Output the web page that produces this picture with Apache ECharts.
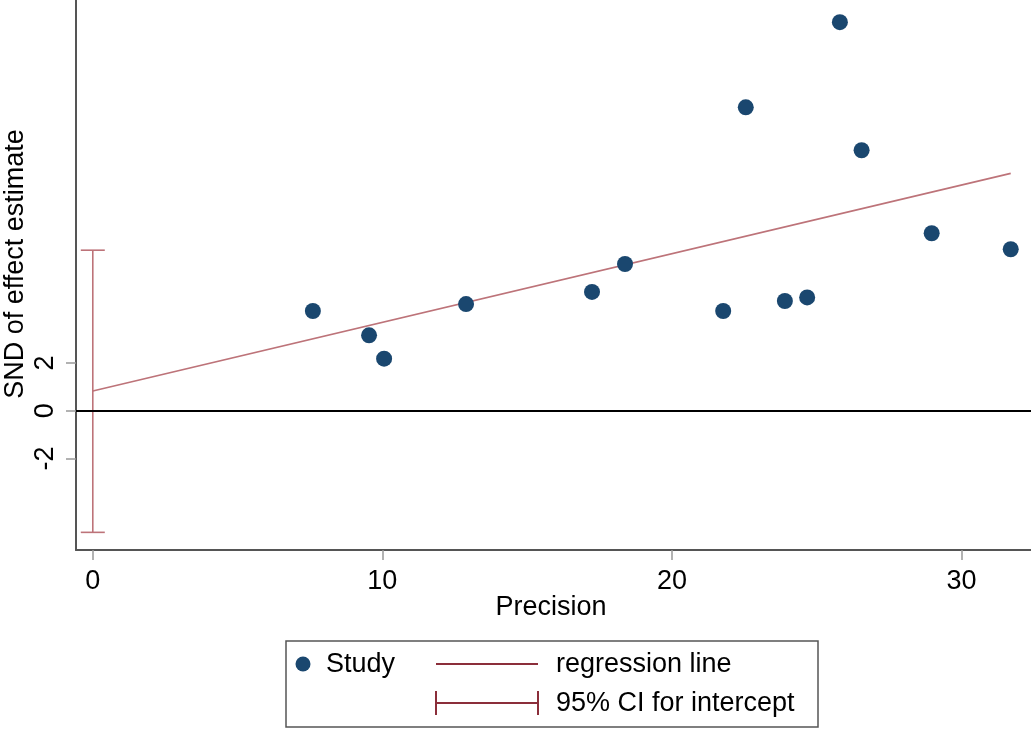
<!DOCTYPE html>
<html>
<head>
<meta charset="utf-8">
<script src="https://cdn.jsdelivr.net/npm/echarts@6/dist/echarts.min.js"></script>
<style>
  html, body { margin: 0; padding: 0; background: #fff; }
  #main { width: 1031px; height: 731px; }
</style>
</head>
<body>
<div id="main"></div>
<script>
// study points: precision (x) and standard normal deviate (y)
var precision = [7.60, 9.54, 10.06, 12.89, 17.24, 18.38, 21.77, 22.55, 23.90, 24.67, 25.80, 26.55, 28.97, 31.70];
var snd       = [4.18, 3.16, 2.18, 4.47, 4.98, 6.15, 4.18, 12.72, 4.60, 4.75, 16.29, 10.92, 7.44, 6.77];

// regression line end points
var regX = [0, 31.7];
var regY = [0.83, 9.95];

// 95% CI for intercept
var ciLow = -5.10;
var ciHigh = 6.73;

var xTicks = [0, 10, 20, 30];
var yTicks = [-2, 0, 2];

var FONT = 'Liberation Sans, Arial, sans-serif';
var NAVY = '#1a476f';
var PINK = '#bd7379';
var MAROON = '#8b2e3a';

var chart = echarts.init(document.getElementById('main'));

var studyData = precision.map(function (x, i) { return [x, snd[i]]; });
var regData = regX.map(function (x, i) { return [x, regY[i]]; });

var option = {
  animation: false,
  backgroundColor: '#fff',
  grid: {left: 76, right: 0, top: 0, bottom: 181, containLabel: false},
  xAxis: {
    type: 'value',
    min: -0.58,
    max: 32.4,
    axisLine: {show: true, onZero: false, lineStyle: {color: '#555', width: 2}},
    axisTick: {show: true, customValues: xTicks, length: 10, lineStyle: {color: '#999', width: 1.5}},
    axisLabel: {customValues: xTicks, fontSize: 27, fontFamily: FONT, color: '#000', margin: 18},
    splitLine: {show: false}
  },
  yAxis: {
    type: 'value',
    min: -5.84,
    max: 17.22,
    axisLine: {show: true, onZero: false, lineStyle: {color: '#555', width: 2}},
    axisTick: {show: true, customValues: yTicks, length: 10, lineStyle: {color: '#999', width: 1.5}},
    axisLabel: {customValues: yTicks, rotate: 90, fontSize: 27, fontFamily: FONT, color: '#000', margin: 17},
    splitLine: {show: false}
  },
  series: [
    {
      name: 'zero',
      type: 'line',
      data: [],
      silent: true,
      markLine: {
        silent: true,
        symbol: 'none',
        label: {show: false},
        lineStyle: {color: '#000', width: 2, type: 'solid'},
        data: [{yAxis: 0}]
      }
    },
    {
      name: 'regression line',
      type: 'line',
      data: regData,
      symbol: 'none',
      lineStyle: {color: PINK, width: 1.6},
      z: 3
    },
    {
      name: '95% CI for intercept',
      type: 'custom',
      data: [[0, ciLow, ciHigh]],
      renderItem: function (params, api) {
        var lo = api.coord([api.value(0), api.value(1)]);
        var hi = api.coord([api.value(0), api.value(2)]);
        var half = 12;
        var style = {stroke: PINK, lineWidth: 1.6, fill: null};
        return {
          type: 'group',
          children: [
            {type: 'line', shape: {x1: lo[0], y1: lo[1], x2: hi[0], y2: hi[1]}, style: style},
            {type: 'line', shape: {x1: lo[0] - half, y1: lo[1], x2: lo[0] + half, y2: lo[1]}, style: style},
            {type: 'line', shape: {x1: hi[0] - half, y1: hi[1], x2: hi[0] + half, y2: hi[1]}, style: style}
          ]
        };
      },
      z: 3
    },
    {
      name: 'Study',
      type: 'scatter',
      data: studyData,
      symbol: 'circle',
      symbolSize: 16,
      itemStyle: {color: NAVY, opacity: 1},
      z: 4
    }
  ],
  graphic: [
    // axis titles
    {type: 'text', x: 551, y: 608, style: {text: 'Precision', font: '27px ' + FONT, fill: '#000', textAlign: 'center', textVerticalAlign: 'middle'}},
    {type: 'text', x: 16, y: 264, rotation: Math.PI / 2, style: {text: 'SND of effect estimate', font: '27px ' + FONT, fill: '#000', textAlign: 'center', textVerticalAlign: 'middle'}},
    // legend box
    {type: 'rect', shape: {x: 286, y: 641, width: 532, height: 86}, style: {fill: '#fff', stroke: '#555', lineWidth: 1.5}},
    {type: 'circle', shape: {cx: 303, cy: 664, r: 7.5}, style: {fill: NAVY}},
    {type: 'text', x: 326, y: 665, style: {text: 'Study', font: '27px ' + FONT, fill: '#000', textVerticalAlign: 'middle'}},
    {type: 'line', shape: {x1: 436, y1: 664, x2: 538, y2: 664}, style: {stroke: MAROON, lineWidth: 2}},
    {type: 'text', x: 556, y: 665, style: {text: 'regression line', font: '27px ' + FONT, fill: '#000', textVerticalAlign: 'middle'}},
    {type: 'line', shape: {x1: 436, y1: 703, x2: 538, y2: 703}, style: {stroke: MAROON, lineWidth: 2}},
    {type: 'line', shape: {x1: 436, y1: 691, x2: 436, y2: 715}, style: {stroke: MAROON, lineWidth: 2}},
    {type: 'line', shape: {x1: 538, y1: 691, x2: 538, y2: 715}, style: {stroke: MAROON, lineWidth: 2}},
    {type: 'text', x: 556, y: 704, style: {text: '95% CI for intercept', font: '27px ' + FONT, fill: '#000', textVerticalAlign: 'middle'}}
  ]
};

chart.setOption(option);
</script>
</body>
</html>
